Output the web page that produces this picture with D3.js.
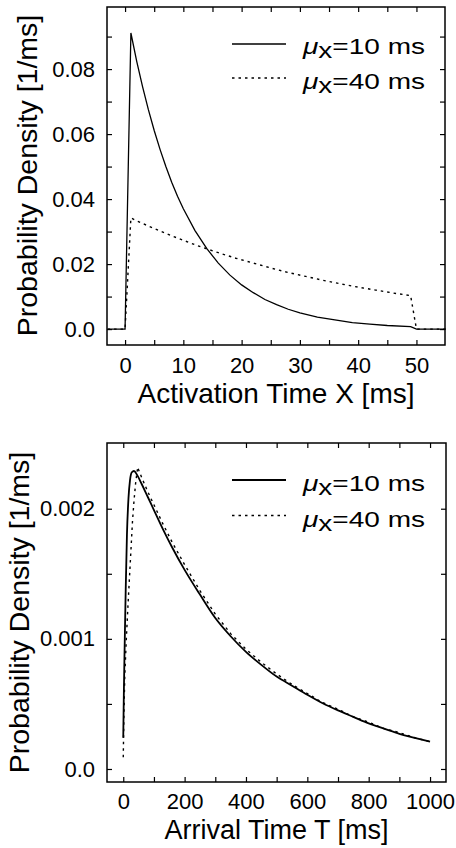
<!DOCTYPE html>
<html>
<head>
<meta charset="utf-8">
<script src="https://cdn.jsdelivr.net/npm/d3@7"></script>
<style>
  html, body { margin: 0; padding: 0; background: #fff; }
  svg { display: block; }
  text { font-family: "Liberation Sans", Arial, sans-serif; fill: #000; }
</style>
</head>
<body>
<div id="chart"></div>
<script>
// Top panel: activation time X
const actX10 = [-3, 0, 1, 2, 3, 4, 5, 6, 7, 8, 9, 10, 12, 14, 16, 18, 20, 22, 24, 26, 28, 30, 33, 36, 39, 42, 45, 49, 50, 55];
const actY10 = [0, 0, 0.0911, 0.0824, 0.0746, 0.0675, 0.0611, 0.0553, 0.0500, 0.0452, 0.0409, 0.0370, 0.0303, 0.0248, 0.0203, 0.0166, 0.0136, 0.0112, 0.0091, 0.0075, 0.0061, 0.0050, 0.0037, 0.0028, 0.0020, 0.0015, 0.0011, 0.00075, 0, 0];
const actX40 = [-3, 0, 1, 2, 4, 6, 8, 10, 13, 16, 19, 22, 25, 28, 31, 34, 37, 40, 43, 46, 49, 50, 55];
const actY40 = [0, 0, 0.0342, 0.0333, 0.0317, 0.0302, 0.0287, 0.0273, 0.0253, 0.0235, 0.0218, 0.0203, 0.0188, 0.0174, 0.0162, 0.0150, 0.0139, 0.0129, 0.0120, 0.0111, 0.0103, 0, 0];

// Bottom panel: arrival time T
const arrX10 = [0, 2, 5, 8, 12, 17, 22, 28, 35, 45, 60, 80, 100, 130, 160, 200, 250, 300, 350, 400, 450, 500, 550, 600, 650, 700, 750, 800, 850, 900, 950, 1000];
const arrY10 = [0.00024, 0.0006, 0.0010, 0.00138, 0.00180, 0.00208, 0.00222, 0.00228, 0.00229, 0.00226, 0.00219, 0.00209, 0.00199, 0.00184, 0.00170, 0.00153, 0.00134, 0.00116, 0.00102, 0.00090, 0.00080, 0.00071, 0.00064, 0.00057, 0.000505, 0.00045, 0.00040, 0.00035, 0.00031, 0.00027, 0.00024, 0.00021];
const arrX40 = [0, 2, 5, 10, 15, 20, 25, 30, 35, 40, 47, 50, 60, 80, 100, 130, 160, 200, 250, 300, 350, 400, 450, 500, 550, 600, 650, 700, 750, 800, 850, 900, 950, 1000];
const arrY40 = [0.00009, 0.00040, 0.00072, 0.00100, 0.00124, 0.00146, 0.00168, 0.00190, 0.00206, 0.00219, 0.00232, 0.00230, 0.00224, 0.00213, 0.00203, 0.00188, 0.00174, 0.00157, 0.00137, 0.00119, 0.00104, 0.00092, 0.00082, 0.00073, 0.00065, 0.00058, 0.00051, 0.00046, 0.00040, 0.00036, 0.00031, 0.00028, 0.00024, 0.00021];

// ticks and labels
const actXTicks = [0, 5, 10, 15, 20, 25, 30, 35, 40, 45, 50];
const actXLabels = ["0", "10", "20", "30", "40", "50"];
const actYTicks = [0, 0.01, 0.02, 0.03, 0.04, 0.05, 0.06, 0.07, 0.08, 0.09];
const actYLabels = ["0.0", "0.02", "0.04", "0.06", "0.08"];
const arrXTicks = [0, 100, 200, 300, 400, 500, 600, 700, 800, 900, 1000];
const arrXLabels = ["0", "200", "400", "600", "800", "1000"];
const arrYTicks = [0, 0.0005, 0.001, 0.0015, 0.002];
const arrYLabels = ["0.0", "0.001", "0.002"];

const legendNames = ["10 ms", "40 ms"];

const W = 456, H = 848;
const svg = d3.select("#chart").append("svg")
  .attr("width", W).attr("height", H);

function drawPanel(p) {
  const x = d3.scaleLinear().domain(p.xDomain).range([p.left, p.right]);
  const y = d3.scaleLinear().domain(p.yDomain).range([p.bottom, p.top]);
  const g = svg.append("g");

  // label only every other tick
  const xFmt = (d, i) => (i % 2 === 0 ? p.xLabels[i / 2] : "");
  const yFmt = (d, i) => (i % 2 === 0 ? (p.yLabels[i / 2] || "") : "");

  const axes = [
    g.append("g").attr("transform", `translate(0,${p.bottom})`)
      .call(d3.axisBottom(x).tickValues(p.xTicks).tickFormat(xFmt).tickSize(-5).tickPadding(p.xPad)),
    g.append("g").attr("transform", `translate(0,${p.top})`)
      .call(d3.axisTop(x).tickValues(p.xTicks).tickFormat("").tickSize(-5)),
    g.append("g").attr("transform", `translate(${p.left},0)`)
      .call(d3.axisLeft(y).tickValues(p.yTicks).tickFormat(yFmt).tickSize(-5).tickPadding(12)),
    g.append("g").attr("transform", `translate(${p.right},0)`)
      .call(d3.axisRight(y).tickValues(p.yTicks).tickFormat("").tickSize(-5))
  ];
  axes.forEach(a => {
    a.attr("font-family", null).attr("font-size", null);
    a.select(".domain").remove();
    a.selectAll(".tick line").attr("stroke", "#000").attr("stroke-width", 1.2);
    a.selectAll(".tick text").style("font-size", "22px");
  });

  // frame
  g.append("rect")
    .attr("x", p.left).attr("y", p.top)
    .attr("width", p.right - p.left).attr("height", p.bottom - p.top)
    .attr("fill", "none").attr("stroke", "#000").attr("stroke-width", 1.5);

  const series = [
    { xs: p.x10, ys: p.y10, dash: null, curve: p.curve10 },
    { xs: p.x40, ys: p.y40, dash: "2.5,4", curve: d3.curveLinear }
  ];
  series.forEach(s => {
    const line = d3.line().x(d => x(d[0])).y(d => y(d[1])).curve(s.curve);
    g.append("path")
      .datum(s.xs.map((v, i) => [v, s.ys[i]]))
      .attr("fill", "none").attr("stroke", "#000")
      .attr("stroke-width", s.dash ? 1.4 : p.solidW)
      .attr("stroke-dasharray", s.dash)
      .attr("d", line);
  });

  // legend
  legendNames.forEach((name, i) => {
    const ly = p.legendY[i];
    g.append("line")
      .attr("x1", 232).attr("x2", 286).attr("y1", ly).attr("y2", ly)
      .attr("stroke", "#000").attr("stroke-width", i === 0 ? p.solidW : 1.4)
      .attr("stroke-dasharray", i === 0 ? null : "2.5,4");
    const t = g.append("text")
      .attr("x", 303).attr("y", ly + p.legendDy[i])
      .style("font-size", "22px")
      .attr("textLength", 122).attr("lengthAdjust", "spacingAndGlyphs");
    t.append("tspan").style("font-style", "italic").text("μ");
    t.append("tspan").attr("dy", 4).text("x");
    t.append("tspan").attr("dy", -4).text("=" + name);
  });

  // axis titles
  g.append("text")
    .attr("x", (p.left + p.right) / 2).attr("y", p.xTitleY)
    .attr("text-anchor", "middle").style("font-size", p.xTitleSize)
    .text(p.xTitle);
  g.append("text")
    .attr("transform", `translate(${p.yTitleX},${(p.top + p.bottom) / 2 + p.yTitleShift}) rotate(-90)`)
    .attr("text-anchor", "middle").style("font-size", "28.5px")
    .text("Probability Density [1/ms]");
}

drawPanel({
  left: 107, right: 445, top: 7, bottom: 345,
  xDomain: [-3.1, 54.9], yDomain: [-0.0049, 0.0991],
  xTicks: actXTicks, xLabels: actXLabels, yTicks: actYTicks, yLabels: actYLabels,
  x10: actX10, y10: actY10, x40: actX40, y40: actY40,
  curve10: d3.curveLinear, solidW: 1.3,
  xPad: 12.5, xTitleY: 403, xTitleSize: "28px", xTitle: "Activation Time X [ms]",
  yTitleX: 37, yTitleShift: -0.5,
  legendY: [44, 78], legendDy: [9.5, 11]
});

drawPanel({
  left: 107, right: 446, top: 443, bottom: 782,
  xDomain: [-53, 1052], yDomain: [-0.0001, 0.002505],
  xTicks: arrXTicks, xLabels: arrXLabels, yTicks: arrYTicks, yLabels: arrYLabels,
  x10: arrX10, y10: arrY10, x40: arrX40, y40: arrY40,
  curve10: d3.curveMonotoneX, solidW: 1.8,
  xPad: 11.5, xTitleY: 839, xTitleSize: "27px", xTitle: "Arrival Time T [ms]",
  yTitleX: 28.5, yTitleShift: 0,
  legendY: [480, 515.5], legendDy: [11, 11]
});
</script>
</body>
</html>
